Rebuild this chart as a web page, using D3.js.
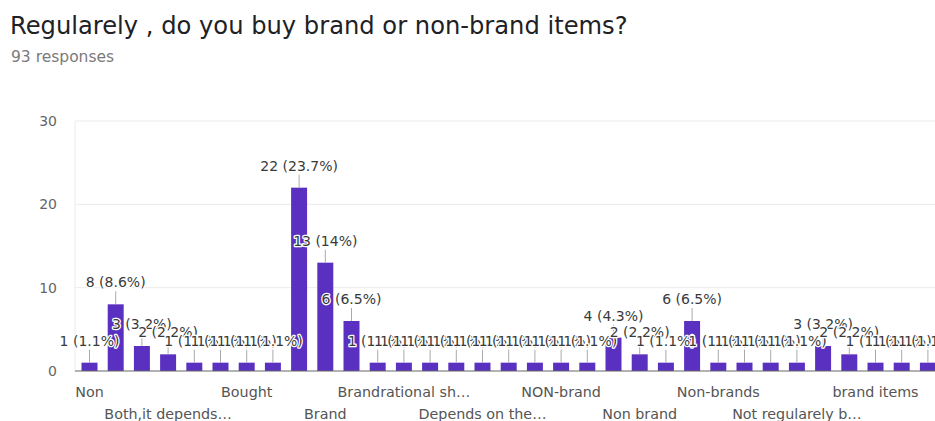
<!DOCTYPE html>
<html>
<head>
<meta charset="utf-8">
<script src="https://cdn.jsdelivr.net/npm/d3@7/dist/d3.min.js"></script>
<style>
  html, body { margin: 0; padding: 0; background: #fff; }
  svg { display: block; font-family: "DejaVu Sans", sans-serif; }
</style>
</head>
<body>
<svg id="chart" width="935" height="421"></svg>
<script>
// Survey answers, in the order the form lists them
const categories = [
  "Non", "Both", "Both brand and non-brand", "Both,it depends…", "Both, depending on quality",
  "Both, mostly non-brand", "Bought", "Bought brand mostly", "Branded", "Brand",
  "Brand ones", "Brand, if affordable", "Brandrational sh…", "Brands", "Branded products",
  "Depends on the…", "Depends on price", "Mostly brand", "NON-brand", "NON BRAND",
  "No", "Non brand", "Non branded", "Non-brand", "Non-brands",
  "Non-branded", "Not always", "Not regularely b…", "Non brand items", "Nonbrand",
  "brand items", "brands", "branded"
];
// Number of responses per answer
const counts = [
  1, 8, 3, 2, 1, 1, 1, 1, 22, 13,
  6, 1, 1, 1, 1, 1, 1, 1, 1, 1,
  4, 2, 1, 6, 1, 1, 1, 1, 3, 2,
  1, 1, 1
];
const totalResponses = 93;
const yTicks = [0, 10, 20, 30];

const titleText = "Regularely , do you buy brand or non-brand items?";
const subtitleText = totalResponses + " responses";

const svg = d3.select("#chart");
const W = 935, H = 421;
const plot = { left: 75, right: W, top: 121, bottom: 371 };

// Scales
const x = d3.scaleBand()
  .domain(categories)
  .range([76.4, 941])
  .paddingInner(0.39)
  .paddingOuter(0.195);

const y = d3.scaleLinear()
  .domain([0, 30])
  .range([plot.bottom, plot.top]);

// Title block
svg.append("text")
  .attr("x", 10).attr("y", 33.5)
  .attr("font-size", 24.2)
  .attr("fill", "#202124")
  .text(titleText);

svg.append("text")
  .attr("x", 11).attr("y", 62)
  .attr("font-size", 15.5)
  .attr("fill", "#7a7a7a")
  .text(subtitleText);

// Grid
const grid = svg.append("g");
grid.selectAll("line.h")
  .data(yTicks.filter(d => d > 0))
  .join("line")
  .attr("x1", plot.left).attr("x2", plot.right)
  .attr("y1", d => y(d)).attr("y2", d => y(d))
  .attr("stroke", "#ebebeb").attr("stroke-width", 1);

grid.append("line")
  .attr("x1", plot.left).attr("x2", plot.left)
  .attr("y1", y(30)).attr("y2", y(0))
  .attr("stroke", "#ebebeb").attr("stroke-width", 1);

// Y axis labels
const yAxis = d3.axisLeft(y).tickValues(yTicks).tickSize(0).tickPadding(0).tickFormat(d3.format("d"));
const gy = svg.append("g")
  .attr("transform", `translate(57,0)`)
  .call(yAxis);
gy.select(".domain").remove();
gy.selectAll("text")
  .attr("font-family", "DejaVu Sans, sans-serif")
  .attr("font-size", 14)
  .attr("fill", "#666");

// Bars
svg.append("g").selectAll("rect")
  .data(categories)
  .join("rect")
  .attr("x", (d) => x(d))
  .attr("width", x.bandwidth())
  .attr("y", (d, i) => y(counts[i]))
  .attr("height", (d, i) => y(0) - y(counts[i]))
  .attr("fill", "#5a30c0");

// Baseline
svg.append("line")
  .attr("x1", plot.left).attr("x2", plot.right)
  .attr("y1", y(0)).attr("y2", y(0))
  .attr("stroke", "#666").attr("stroke-width", 1.2);

// X axis: every third answer, alternating between two rows
const xAxisG = svg.append("g");
xAxisG.selectAll("text")
  .data(categories.filter((d, i) => i % 3 === 0))
  .join("text")
  .attr("x", d => x(d) + x.bandwidth() / 2)
  .attr("y", (d, k) => k % 2 === 0 ? 397 : 418.5)
  .attr("text-anchor", "middle")
  .attr("font-size", 14.3)
  .attr("fill", "#555")
  .text(d => d);

// Value annotations with stems
const pct = v => {
  const s = (v / totalResponses * 100).toFixed(1);
  return s.endsWith(".0") ? s.slice(0, -2) : s;
};
const ann = svg.append("g");
ann.selectAll("line")
  .data(categories)
  .join("line")
  .attr("x1", d => x(d) + x.bandwidth() / 2)
  .attr("x2", d => x(d) + x.bandwidth() / 2)
  .attr("y1", (d, i) => y(counts[i]))
  .attr("y2", (d, i) => y(counts[i]) - 13)
  .attr("stroke", "#aaa").attr("stroke-width", 1);

ann.selectAll("text")
  .data(categories)
  .join("text")
  .attr("x", d => x(d) + x.bandwidth() / 2)
  .attr("y", (d, i) => y(counts[i]) - 17)
  .attr("text-anchor", "middle")
  .attr("font-size", 14)
  .attr("fill", "#3a3a3a")
  .attr("stroke", "#fff")
  .attr("stroke-width", 2.5)
  .attr("stroke-linejoin", "round")
  .attr("paint-order", "stroke")
  .text((d, i) => `${counts[i]} (${pct(counts[i])}%)`);
</script>
</body>
</html>
